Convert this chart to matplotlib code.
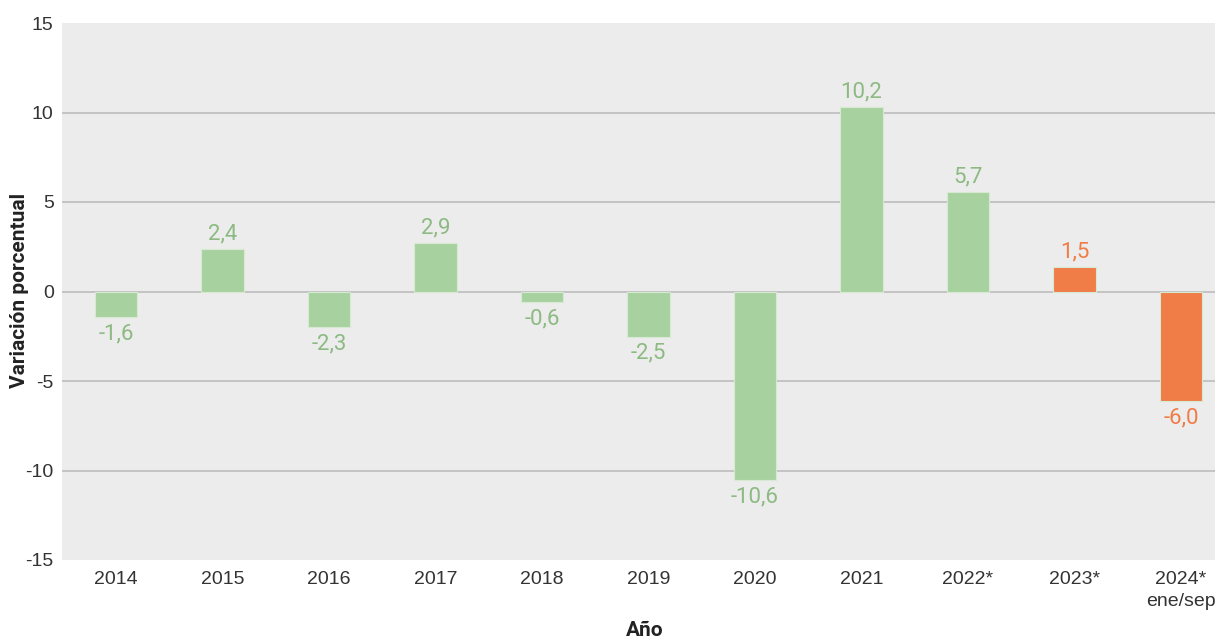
"""Variación porcentual anual, 2014-2024 (barras verdes / naranjas)."""
import matplotlib
matplotlib.use("Agg")
import matplotlib.pyplot as plt
import numpy as np

years = ["2014", "2015", "2016", "2017", "2018", "2019", "2020", "2021",
         "2022*", "2023*", "2024*\nene/sep"]
# bar heights as drawn in the reference
values = [-1.41, 2.36, -1.98, 2.73, -0.60, -2.52, -10.53, 10.32, 5.58, 1.39, -6.1]
# printed value labels
labels = ["-1,6", "2,4", "-2,3", "2,9", "-0,6", "-2,5", "-10,6", "10,2", "5,7", "1,5", "-6,0"]
highlight = [False] * 9 + [True, True]

GREEN, GREEN_TXT = "#a8d1a0", "#8cba82"
ORANGE, ORANGE_TXT = "#f07d48", "#f07d48"
BG = "#ececec"

plt.rcParams["font.family"] = ["Liberation Sans", "DejaVu Sans"]
plt.rcParams["axes.unicode_minus"] = False
NARROW = ["Roboto", "DejaVu Sans"]

fig = plt.figure(figsize=(12.15, 6.39), dpi=100)
ax = fig.add_axes([62 / 1215, 1 - 560 / 639, 1153 / 1215, 537 / 639])
ax.set_facecolor(BG)

x = np.arange(len(years))
colors = [ORANGE if h else GREEN for h in highlight]
ax.bar(x, values, width=0.4, color=colors, edgecolor="#d6ead2", linewidth=0.8, zorder=3)

for xi, v, lab, h in zip(x, values, labels, highlight):
    off = 0.25 if v >= 0 else -0.35
    ax.text(xi, v + off, lab, ha="center", va="bottom" if v >= 0 else "top",
            fontsize=16, color=ORANGE_TXT if h else GREEN_TXT, family=NARROW, zorder=4)

ax.set_ylim(-15, 15)
ax.set_xlim(-0.507, 10.32)
ax.set_yticks(np.arange(-15, 16, 5))
ax.yaxis.grid(True, color="#bcbcbc", linewidth=1.2, zorder=1)
for gl in (ax.yaxis.get_gridlines()[0], ax.yaxis.get_gridlines()[-1]):
    gl.set_visible(False)
ax.set_axisbelow(True)
for sp in ax.spines.values():
    sp.set_visible(False)
ax.tick_params(axis="both", length=0, labelsize=14, colors="#333333")
ax.tick_params(axis="y", pad=6)
ax.tick_params(axis="x", pad=8)
ax.set_xticks(x)
ax.set_xticklabels(years, linespacing=1.35)

fig.text(20 / 1215, 1 - 290 / 639, "Variación porcentual", rotation=90, ha="center",
         va="center", fontsize=15, fontweight="bold", color="#222222", family=NARROW)
fig.text(645 / 1215, 1 - 630 / 639, "Año", ha="center", va="center", fontsize=15,
         fontweight="bold", color="#222222", family=NARROW)

fig.savefig("out.png", dpi=100, facecolor="white")
